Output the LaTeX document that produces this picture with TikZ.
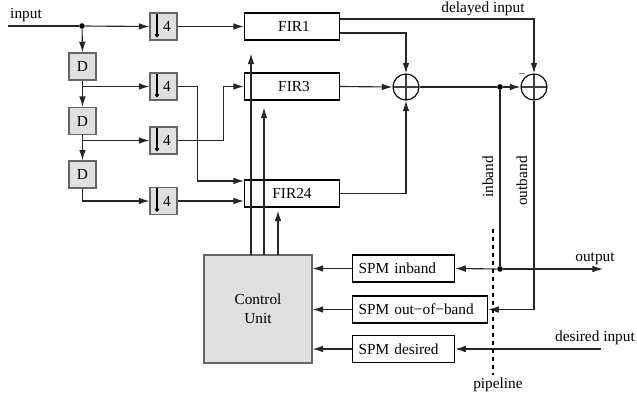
\documentclass[tikz,border=0pt]{standalone}
\usepackage{fontspec}
\setmainfont{Liberation Serif}
\usetikzlibrary{arrows.meta}

\tikzset{
  arr/.style={-{Latex[length=8pt,width=5pt]}},
  decim/.style={path picture={\draw[black,-{To[length=2.5pt,width=3.5pt]}]
      ([xshift=5.25pt]path picture bounding box.north west) --
      ([xshift=5.25pt,yshift=2pt]path picture bounding box.south west);}},
  summer/.style={circle,draw=black,fill=white,minimum size=19.5pt,inner sep=0pt,
    path picture={\draw[black!75]
      (path picture bounding box.north) -- (path picture bounding box.south)
      (path picture bounding box.west) -- (path picture bounding box.east);}},
  dot/.style={circle,fill=black,inner sep=0pt,minimum size=4.2pt}
}

\begin{document}
\begin{tikzpicture}[x=.75pt,y=-.75pt,font=\fontsize{11.5}{13.5}\selectfont,line width=.85pt]
  \useasboundingbox (0,0) rectangle (637,397);

  \begin{scope}[every node/.style={draw=black!60,fill=black!12,minimum width=20.25pt,
      minimum height=20.25pt,inner sep=0pt}]
    \node (d1) at (82.5,66.5)  {D};
    \node (d2) at (82.5,121)   {D};
    \node (d3) at (82.5,174.5) {D};
    \node[decim] (dec1) at (163.5,26.5) {\hspace*{5.2pt}4};
    \node[decim] (dec2) at (163.5,86.5) {\hspace*{5.2pt}4};
    \node[decim] (dec3) at (163.5,140.5) {\hspace*{5.2pt}4};
    \node[decim] (dec4) at (163.5,201)  {\hspace*{5.2pt}4};
    \node[minimum width=81pt,minimum height=81pt,align=center] (cu) at (258,309) {Control\\[1pt]Unit};
  \end{scope}

  \begin{scope}[every node/.style={draw=black,fill=white,minimum width=71.25pt,
      minimum height=20.25pt,inner sep=0pt}]
    \node (fir1)  at (292,26.5)  {\hspace*{3pt}FIR1};
    \node (fir3)  at (292,86.5)  {\hspace*{3pt}FIR3};
    \node (fir24) at (292,193.5) {FIR24};
  \end{scope}

  \begin{scope}[every node/.style={draw=black,fill=white,anchor=west,minimum height=20.25pt,
      inner xsep=4.5pt,inner ysep=0pt,align=left}]
    \node[text width=67.5pt]  (spmi) at (352,268.5) {SPM inband};
    \node[text width=92.25pt] (spmo) at (352,309.5) {SPM out−of−band};
    \node[text width=67.5pt]  (spmd) at (352,349)   {SPM desired};
  \end{scope}

  \node[summer] (sum1) at (406,87) {};
  \node[summer] (sum2) at (534,87) {};
  \node[font=\fontsize{7}{8}\selectfont] at (522,74) {$-$};

  \node[dot] (dot1) at (82,26)  {};
  \node[dot] (dot2) at (500,87) {};
  \node[dot] (dot3) at (500,269) {};

  \coordinate (in)   at (8,26);
  \coordinate (out)  at (603,269);
  \coordinate (des)  at (601,349);
  \coordinate (ptop) at (493,229);
  \coordinate (pbot) at (493,375);
  \coordinate (cu1)  at (251,255);
  \coordinate (cu2)  at (264,255);
  \coordinate (cu3)  at (278,255);

  \begin{scope}[color=black!85]
    \draw (in) -- (dot1);
    \draw[arr] (dot1) -- (dec1.west);
    \draw[arr] (dot1) -- (d1.north);
    \draw[arr] (d1.south) -- (d2.north);
    \draw[arr] (d2.south) -- (d3.north);
    \draw[arr] (d1.south |- dec2.west) -- (dec2.west);
    \draw[arr] (d2.south |- dec3.west) -- (dec3.west);
    \draw[arr] (d3.south) |- (dec4.west);

    \draw[arr] (dec1.east) -- (fir1.west);
    \draw[arr] (dec2.east) -- ++(20,0) |- ([yshift=9.4pt]fir24.west);
    \draw[arr] (dec3.east) -- ++(46,0) |- (fir3.west);
    \draw[arr] (dec4.east) -- (dec4.east -| fir24.west);

    \draw[arr] (cu1) -- ([yshift=-9.75pt]cu1 |- fir1.south);
    \draw[arr] (cu2) -- ([yshift=-5.25pt]cu2 |- fir3.south);
    \draw[arr] (cu3) -- ([yshift=-2.25pt]cu3 |- fir24.south);

    \draw[arr] ([yshift=-4.9pt]fir1.east) -| (sum1.north);
    \draw[arr] ([yshift=5.6pt]fir1.east) -| (sum2.north);
    \draw[arr] (fir3.east) -- (sum1.west);
    \draw[arr] (fir24.east) -| (sum1.south);

    \draw (sum1.east) -- (dot2);
    \draw[arr] (dot2) -- (sum2.west);
    \draw (dot2) -- (dot3);
    \draw[arr] (dot3) -- (out);
    \draw[arr] (dot3) -- (spmi.east);
    \draw[arr] (sum2.south) |- (spmo.east);
    \draw[arr] (des) -- (spmd.east);

    \draw[arr] (spmi.west) -- (spmi.west -| cu.east);
    \draw[arr] (spmo.west) -- (spmo.west -| cu.east);
    \draw[arr] (spmd.west) -- (spmd.west -| cu.east);

    \draw[dashed,black] (ptop) -- (pbot);
  \end{scope}

  \node at (26,15) {input};
  \node at (483,9) {delayed input};
  \node at (595,259) {output};
  \node at (595,338) {desired input};
  \node at (498,385) {pipeline};
  \node[rotate=90] at (488,177) {inband};
  \node[rotate=90] at (522,181) {outband};
\end{tikzpicture}
\end{document}
